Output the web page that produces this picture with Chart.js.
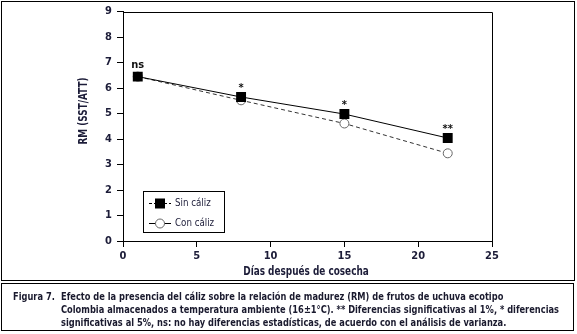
<!DOCTYPE html>
<html><head><meta charset="utf-8">
<script src="https://cdn.jsdelivr.net/npm/chart.js@4"></script>
<style>
html,body{margin:0;padding:0;background:#fff;}
body{width:577px;height:334px;position:relative;overflow:hidden;font-family:"Liberation Sans Narrow","DejaVu Sans Condensed","Roboto Condensed",sans-serif;}
#wrap{position:absolute;left:0;top:0;width:577px;height:282px;}
#frame{position:absolute;left:1px;top:1px;width:572px;height:278px;border:1px solid #000;pointer-events:none;}
#cap{position:absolute;left:1px;top:283px;width:573px;height:48px;border:1.5px solid #000;box-sizing:border-box;font-weight:bold;font-size:10.5px;line-height:13px;color:#1a1a2e;}
#cap .lab{position:absolute;left:11px;top:6px;white-space:nowrap;transform-origin:0 0;}
#cap .txt{position:absolute;left:59px;top:6px;white-space:nowrap;transform-origin:0 0;}
</style></head>
<body>
<div id="wrap"><canvas id="c"></canvas></div>
<div id="frame"></div>
<div id="cap"><div class="lab" id="lab">Figura 7.</div><div class="txt" id="txt"><span id="l1">Efecto de la presencia del cáliz sobre la relación de madurez (RM) de frutos de uchuva ecotipo</span><br><span id="l2">Colombia almacenados a temperatura ambiente (16±1°C). ** Diferencias significativas al 1%, * diferencias</span><br><span id="l3">significativas al 5%, ns: no hay diferencias estadísticas, de acuerdo con el análisis de varianza.</span></div></div>
<script>
const days = [1, 8, 15, 22];
const sinCaliz = [6.45, 5.65, 4.98, 4.04];
const conCaliz = [6.45, 5.52, 4.61, 3.44];
const significance = ['ns', '*', '*', '**'];
const seriesLabels = ['Sin cáliz', 'Con cáliz'];
const xTicks = [0, 5, 10, 15, 20, 25];
const yTicks = [0, 1, 2, 3, 4, 5, 6, 7, 8, 9];
const xTitle = 'Días después de cosecha';
const yTitle = 'RM (SST/ATT)';

const FONT = '"Liberation Sans Narrow","DejaVu Sans Condensed","Roboto Condensed",sans-serif';
const TICKC = '#1c1c38';

// condense caption text to the reference width
(function () {
  const l2 = document.getElementById('l2');
  const w = l2.getBoundingClientRect().width;
  const k = 498 / w;
  document.getElementById('txt').style.transform = 'scaleX(' + k + ')';
  document.getElementById('lab').style.transform = 'scaleX(' + k + ')';
})();

function condensedText(ctx, text, x, y, k) {
  ctx.save();
  ctx.translate(x, y);
  ctx.scale(k, 1);
  ctx.fillText(text, 0, 0);
  ctx.restore();
}

const deco = {
  id: 'deco',
  afterDatasetsDraw(chart) {
    const {ctx, chartArea: a, scales: {x, y}} = chart;
    ctx.save();
    ctx.strokeStyle = '#000'; ctx.lineWidth = 1;
    ctx.beginPath();
    ctx.moveTo(a.left, Math.round(a.top) + 0.5);
    ctx.lineTo(Math.round(a.right) + 0.5, Math.round(a.top) + 0.5);
    ctx.lineTo(Math.round(a.right) + 0.5, a.bottom);
    ctx.stroke();

    // significance labels
    ctx.fillStyle = '#111';
    ctx.font = 'bold 11px ' + FONT;
    ctx.textAlign = 'center';
    ctx.textBaseline = 'alphabetic';
    days.forEach((d, i) => {
      const top = Math.max(sinCaliz[i], conCaliz[i]);
      const cy = y.getPixelForValue(top + 0.47);
      const m = ctx.measureText(significance[i]);
      const asc = m.actualBoundingBoxAscent, desc = m.actualBoundingBoxDescent;
      const base = cy + (asc - desc) / 2;
      ctx.fillText(significance[i], x.getPixelForValue(d), base);
    });

    // legend
    const lx = 143.5, ly = 191.5, lw = 81, lh = 41;
    ctx.strokeStyle = '#000'; ctx.lineWidth = 1;
    ctx.strokeRect(lx, ly, lw, lh);
    const rows = [203, 223];
    ctx.font = '10.5px ' + FONT;
    ctx.textAlign = 'left'; ctx.textBaseline = 'middle';
    ctx.beginPath(); ctx.setLineDash([3, 2]);
    ctx.moveTo(149, rows[0] + 0.5); ctx.lineTo(171, rows[0] + 0.5); ctx.stroke();
    ctx.setLineDash([]);
    ctx.fillStyle = '#000'; ctx.fillRect(155, rows[0] - 4.5, 10, 10);
    ctx.beginPath(); ctx.moveTo(149, rows[1] + 0.5); ctx.lineTo(171, rows[1] + 0.5); ctx.stroke();
    ctx.beginPath(); ctx.arc(160, rows[1] + 0.5, 4.5, 0, Math.PI * 2);
    ctx.fillStyle = '#fff'; ctx.fill(); ctx.strokeStyle = '#666'; ctx.stroke();
    ctx.fillStyle = '#1c1c38';
    condensedText(ctx, seriesLabels[0], 175, rows[0], 0.92);
    condensedText(ctx, seriesLabels[1], 175, rows[1], 0.92);

    // axis titles
    ctx.fillStyle = '#1c1c38';
    ctx.font = 'bold 11.5px ' + FONT;
    ctx.textAlign = 'center'; ctx.textBaseline = 'middle';
    condensedText(ctx, xTitle, 306, 272, 0.86);
    ctx.save();
    ctx.translate(84, 111);
    ctx.rotate(-Math.PI / 2);
    condensedText(ctx, yTitle, 0, 0, 0.86);
    ctx.restore();
    ctx.restore();
  }
};

new Chart(document.getElementById('c'), {
  type: 'line',
  data: {
    datasets: [
      {
        label: seriesLabels[0],
        data: days.map((d, i) => ({x: d, y: sinCaliz[i]})),
        borderColor: '#000', borderWidth: 1,
        pointStyle: 'rect', pointRadius: 7, pointHoverRadius: 7,
        pointBackgroundColor: '#000', pointBorderColor: '#000', pointBorderWidth: 0,
        tension: 0, fill: false
      },
      {
        label: seriesLabels[1],
        data: days.map((d, i) => ({x: d, y: conCaliz[i]})),
        borderColor: '#333', borderWidth: 1, borderDash: [4, 3],
        pointStyle: 'circle', pointRadius: 4.5, pointHoverRadius: 4.5,
        pointBackgroundColor: '#fff', pointBorderColor: '#666', pointBorderWidth: 1,
        tension: 0, fill: false
      }
    ]
  },
  options: {
    responsive: true, maintainAspectRatio: false, animation: false,
    devicePixelRatio: 1,
    layout: {padding: {left: 0, right: 85, top: 10, bottom: 0}},
    plugins: {legend: {display: false}, tooltip: {enabled: false}},
    events: [],
    scales: {
      x: {
        type: 'linear', min: 0, max: 25,
        afterBuildTicks: s => { s.ticks = xTicks.map(v => ({value: v})); },
        afterFit: s => { s.height = 41; },
        grid: {display: true, drawOnChartArea: false, drawTicks: true, tickLength: 6, color: '#000', lineWidth: 1},
        border: {display: true, color: '#000', width: 1},
        ticks: {color: TICKC, padding: 3, font: {family: FONT, size: 11, weight: 'bold'}, maxRotation: 0}
      },
      y: {
        type: 'linear', min: 0, max: 9,
        afterBuildTicks: s => { s.ticks = yTicks.map(v => ({value: v})); },
        afterFit: s => { s.width = 123; },
        grid: {display: true, drawOnChartArea: false, drawTicks: true, tickLength: 6, color: '#000', lineWidth: 1},
        border: {display: true, color: '#000', width: 1},
        ticks: {color: TICKC, padding: 5, font: {family: FONT, size: 11, weight: 'bold'}}
      }
    }
  },
  plugins: [deco]
});
</script>
</body></html>
